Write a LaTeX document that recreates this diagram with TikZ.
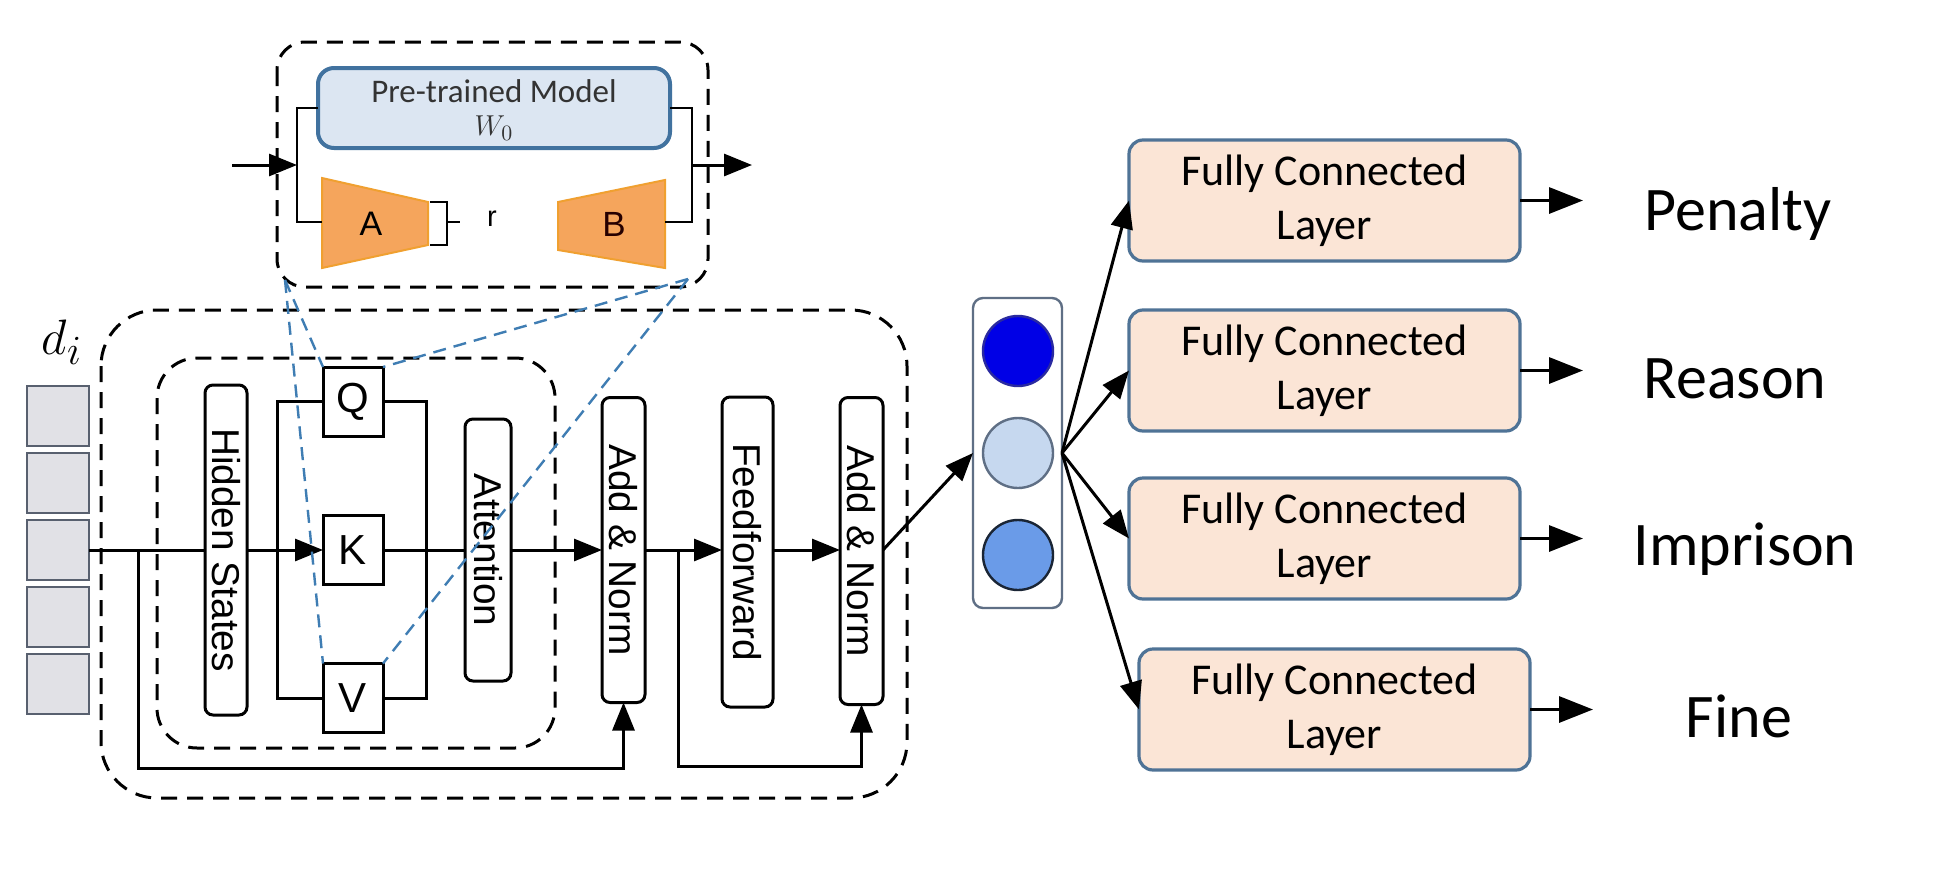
\documentclass[tikz,border=0pt]{standalone}
\usepackage{fontspec}
\usepackage{graphicx}
\setmainfont{Liberation Sans}
\newfontfamily\calfont{Carlito}
\usetikzlibrary{arrows.meta,calc}

\definecolor{fcfill}{HTML}{FBE5D6}
\definecolor{fcdraw}{HTML}{4F7396}
\definecolor{ptfill}{HTML}{DCE6F2}
\definecolor{ptdraw}{HTML}{41729F}
\definecolor{loraor}{HTML}{F5A55C}
\definecolor{loraedge}{HTML}{F0A030}
\definecolor{sqfill}{HTML}{E1E1E6}
\definecolor{sqdraw}{HTML}{58606F}
\definecolor{projblue}{HTML}{3F7DB3}
\definecolor{vecdraw}{HTML}{5F6F85}
\definecolor{cone}{HTML}{0000E6}
\definecolor{conedraw}{HTML}{2A2AA0}
\definecolor{ctwo}{HTML}{C6D8EF}
\definecolor{cthree}{HTML}{6A9BE8}
\definecolor{cthreedraw}{HTML}{1A2535}
\definecolor{pttext}{HTML}{333333}

\newcommand{\vtxt}[1]{\rotatebox{-90}{\fontsize{19.4}{22}\selectfont #1}}

\begin{document}
\begin{tikzpicture}[x=0.5pt,y=-0.5pt,
  every node/.style={inner sep=0pt, outer sep=0pt},
  ln/.style={line width=1.5pt},
  arr/.style={line width=1.5pt,-{Triangle[length=14pt,width=11pt]}},
  bigarr/.style={line width=1.6pt,-{Triangle[length=17pt,width=13pt]}},
  vbox/.style={draw,line width=1.5pt,rounded corners=4pt,fill=white},
  lbox/.style={draw,line width=1.5pt,fill=white},
  dbox/.style={draw,line width=1.5pt,dash pattern=on 8pt off 5pt},
  proj/.style={draw=projblue,line width=1.2pt,dash pattern=on 6.5pt off 4pt},
  sq/.style={draw=sqdraw,fill=sqfill,line width=1.3pt,minimum width=31pt,minimum height=30pt},
  fc/.style={draw=fcdraw,fill=fcfill,line width=1.6pt,rounded corners=7pt,minimum width=195.5pt,minimum height=60.5pt,align=center,font=\calfont\fontsize{22}{27}\selectfont},
  lab/.style={anchor=base,font=\calfont\fontsize{31}{36}\selectfont},
  qkv/.style={lbox,minimum width=30pt,minimum height=34.5pt,font=\fontsize{21}{21}\selectfont},
  neuron/.style={circle,line width=1.2pt,minimum size=35pt},
]
\fill[white] (0,0) rectangle (1934,868);
\useasboundingbox (0,0) rectangle (1934,868);

% ---------- LoRA module ----------
\draw[dbox, rounded corners=14pt] (277,42) rectangle (708,287);
\node[draw=ptdraw, fill=ptfill, line width=2pt, rounded corners=8pt,
      minimum width=176pt, minimum height=40pt] (pt) at (494,108) {};
\node[font=\calfont\fontsize{16.5}{16.5}\selectfont, text=pttext] (pttxt) at (494,91) {Pre-trained Model};
\node[font=\fontsize{15}{15}\selectfont, text=pttext] (w0) at (494,128) {$W_0$};

\draw[fill=loraor, draw=loraedge, line width=1pt] (322,178) -- (428,202) -- (428,245) -- (322,268) -- cycle;
\draw[fill=loraor, draw=loraedge, line width=1pt] (558,202) -- (665,180) -- (665,268) -- (558,250) -- cycle;
\node[font=\fontsize{17}{17}\selectfont] (la) at (371,224) {A};
\node[font=\fontsize{17.5}{17.5}\selectfont, text=black!85!red] (lb) at (614,224) {B};
\draw[line width=1.3pt] (430,202) -- (447,202) -- (447,245) -- (430,245);
\coordinate (brk) at (447,222);
\coordinate (brkt) at (460,222);
\draw[line width=1.3pt] (brk) -- (brkt);
\node[font=\fontsize{14.5}{14.5}\selectfont] (rr) at (492,219) {r};

\coordinate (lin) at (232,165);
\coordinate (ljoin) at (297,165);
\coordinate (aw) at (322,222);
\coordinate (be) at (665,222);
\coordinate (rjoin) at (692,165);
\coordinate (lout) at (752,165);
\draw[arr] (lin) -- (ljoin);
\draw[line width=1.3pt] (pt.west) -| (ljoin) |- (aw);
\draw[line width=1.3pt] (pt.east) -| (rjoin) |- (be);
\draw[arr] (rjoin) -- (lout);

% ---------- input tokens ----------
\node[font=\fontsize{31}{31}\selectfont] (di) at (62,342) {$d_i$};
\node[sq] (s1) at (58,416) {};
\node[sq] (s2) at (58,483) {};
\node[sq] (s3) at (58,550) {};
\node[sq] (s4) at (58,617) {};
\node[sq] (s5) at (58,684) {};

% ---------- transformer block ----------
\draw[dbox, rounded corners=28pt] (101,310) rectangle (907,798);
\draw[dbox, rounded corners=20pt] (157,358) rectangle (555,748);

\node[vbox,minimum height=165pt,minimum width=21pt] (hs) at (226,550) {\vtxt{Hidden States}};
\node[qkv] (q) at (353,401.5) {Q};
\node[qkv] (k) at (353,550) {K};
\node[qkv] (v) at (353,698) {V};
\node[vbox,minimum height=131pt,minimum width=23pt] (att) at (488,550) {\vtxt{Attention}};
\node[vbox,minimum height=152.5pt,minimum width=21.5pt] (an1) at (623.5,550) {\vtxt{Add \& Norm}};
\node[vbox,minimum height=155pt,minimum width=25.5pt] (ff) at (747.5,552) {\vtxt{Feedforward}};
\node[vbox,minimum height=153.5pt,minimum width=21.5pt] (an2) at (861.5,551) {\vtxt{Add \& Norm}};

\coordinate (qvl) at (277,550);
\coordinate (qvr) at (426,550);
\draw[ln] (q.west) -| (qvl) |- (v.west);
\draw[ln] (q.east) -| (qvr) |- (v.east);

\draw[ln] (s3.east) -- (s3.east -| hs.west);
\draw[arr] (hs.east |- k.west) -- (k.west);
\draw[ln] (k.east) -- (k.east -| att.west);
\draw[arr] (att.east |- k.west) -- (an1.west |- k.west);
\draw[arr] (an1.east |- k.west) -- (ff.west |- k.west);
\draw[arr] (ff.east |- k.west) -- (an2.west |- k.west);

\coordinate (r1) at (138,550);
\coordinate (r1b) at (138,768);
\draw[arr] (r1) -- (r1b) -| (an1.south);
\coordinate (r2) at (678,550);
\coordinate (r2b) at (678,766);
\draw[arr] (r2) -- (r2b) -| (an2.south);

% ---------- pooled vector ----------
\node[draw=vecdraw, line width=1.2pt, rounded corners=5pt, fill=white,
      minimum width=44.5pt, minimum height=155pt] (vec) at (1017.5,453) {};
\node[neuron, draw=conedraw, fill=cone] (n1) at (1018,351) {};
\node[neuron, draw=vecdraw, fill=ctwo] (n2) at (1018,453) {};
\node[neuron, draw=cthreedraw, fill=cthree] (n3) at (1018,555) {};
\draw[arr] (an2.east |- k.west) -- (vec.west);

% ---------- heads ----------
\node[fc] (fc1) at (1324.5,200.5) {Fully Connected\\Layer};
\node[fc] (fc2) at (1324.5,370.5) {Fully Connected\\Layer};
\node[fc] (fc3) at (1324.5,538.5) {Fully Connected\\Layer};
\node[fc] (fc4) at (1334.5,709.5) {Fully Connected\\Layer};

\draw[arr] (vec.east) -- (fc1.west);
\draw[arr] (vec.east) -- (fc2.west);
\draw[arr] (vec.east) -- (fc3.west);
\draw[arr] (vec.east) -- (fc4.west);

\node[lab] (l1) at (1738,230) {Penalty};
\node[lab] (l2) at (1735,398) {Reason};
\node[lab] (l3) at (1745,565) {Imprison};
\node[lab] (l4) at (1739,737) {Fine};

\coordinate (o1) at (1583,200.5);
\coordinate (o2) at (1583,370.5);
\coordinate (o3) at (1583,538.5);
\coordinate (o4) at (1593,709.5);
\draw[bigarr] (fc1.east) -- (o1);
\draw[bigarr] (fc2.east) -- (o2);
\draw[bigarr] (fc3.east) -- (o3);
\draw[bigarr] (fc4.east) -- (o4);

% ---------- LoRA projection lines ----------
\coordinate (pl) at (285,280);
\coordinate (pr) at (688,279);
\draw[proj] (pl) -- (q.north west);
\draw[proj] (pl) -- (v.north west);
\draw[proj] (pr) -- (q.north east);
\draw[proj] (pr) -- (v.north east);
\end{tikzpicture}
\end{document}
